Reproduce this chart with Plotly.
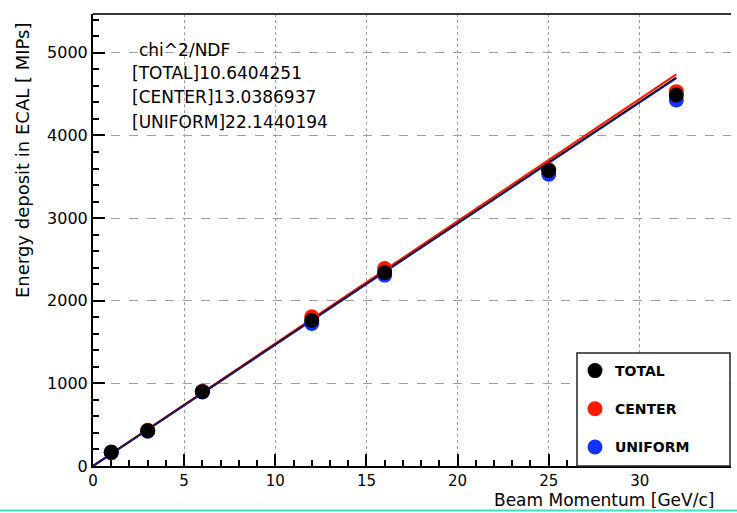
import plotly.graph_objects as go

# Beam momenta (GeV/c) and mean ECAL deposits (MIPs) per selection
momentum = [1, 3, 6, 12, 16, 25, 32]
total = [166, 426, 900, 1760, 2340, 3575, 4490]
center = [170, 432, 905, 1805, 2390, 3585, 4530]
uniform = [162, 420, 895, 1725, 2310, 3530, 4430]

# Straight-line fit results, evaluated at the ends of the fit range
fit_x = [0, 32]
fit_total = [0, 4700]
fit_center = [0, 4740]
fit_uniform = [0, 4690]

chi2_lines = ["chi^2/NDF", "[TOTAL]10.6404251", "[CENTER]13.0386937", "[UNIFORM]22.1440194"]

FONT = "DejaVu Sans"
RED = "#ff1a00"
BLUE = "#1432ff"

fig = go.Figure()

# fit lines (red first, the black/blue pair over it)
fig.add_trace(go.Scatter(x=fit_x, y=fit_center, mode="lines", line=dict(color=RED, width=2.2),
                         showlegend=False, hoverinfo="skip"))
fig.add_trace(go.Scatter(x=fit_x, y=fit_total, mode="lines", line=dict(color="black", width=2),
                         showlegend=False, hoverinfo="skip"))
fig.add_trace(go.Scatter(x=fit_x, y=fit_uniform, mode="lines", line=dict(color="#1a1aa0", width=1.3),
                         showlegend=False, hoverinfo="skip"))

# measured points (TOTAL drawn last, on top)
fig.add_trace(go.Scatter(x=momentum, y=center, mode="markers", name="CENTER", legendrank=2,
                         legendgroup="c", marker=dict(color=RED, size=15)))
fig.add_trace(go.Scatter(x=momentum, y=uniform, mode="markers", name="UNIFORM", legendrank=3,
                         legendgroup="u", marker=dict(color=BLUE, size=15)))
fig.add_trace(go.Scatter(x=momentum, y=total, mode="markers", name="TOTAL", legendrank=1,
                         legendgroup="t", marker=dict(color="black", size=15)))

ann = []
ys = [50, 73, 97, 122]
xs = [137, 130, 130, 130]
for t, yp, xp in zip(chi2_lines, ys, xs):
    ann.append(dict(text=t, xref="paper", yref="paper", x=(xp - 93) / 638, y=(466 - yp) / 452,
                    xanchor="left", yanchor="middle", showarrow=False,
                    font=dict(family=FONT, size=17, color="black")))
ann.append(dict(text="Energy deposit in ECAL [ MIPs]", xref="paper", yref="paper",
                x=(23 - 93) / 638, y=(466 - 160) / 452, textangle=-90, showarrow=False,
                xanchor="center", yanchor="middle", font=dict(family=FONT, size=18, color="black")))
ann.append(dict(text="Beam Momentum [GeV/c]", xref="paper", yref="paper",
                x=(492 - 93) / 638, y=(466 - 500) / 452, showarrow=False, height=16,
                xanchor="left", yanchor="middle", font=dict(family=FONT, size=17, color="black")))

shapes = [
    # legend frame
    dict(type="rect", xref="paper", yref="paper", x0=(577 - 93) / 638, x1=(730 - 93) / 638,
         y0=0.0, y1=(466 - 353) / 452, line=dict(color="#222222", width=1.5), fillcolor="white",
         layer="above"),
    # top frame line
    dict(type="line", xref="paper", yref="paper", x0=0, x1=1, y0=1, y1=1,
         line=dict(color="#333333", width=2)),
    # teal rule at the page bottom
    dict(type="line", xref="paper", yref="paper", x0=-0.2, x1=1.1,
         y0=(466 - 510.5) / 452, y1=(466 - 510.5) / 452, line=dict(color="#40e0c4", width=2)),
]

fig.update_layout(
    width=737, height=513,
    margin=dict(l=93, r=6, t=14, b=47),
    paper_bgcolor="white", plot_bgcolor="white",
    annotations=ann, shapes=shapes,
    showlegend=True,
    legend=dict(x=(575 - 93) / 638, y=(466 - 355) / 452, xanchor="left", yanchor="top",
                bgcolor="rgba(0,0,0,0)", borderwidth=0, tracegroupgap=17,
                font=dict(family=FONT, size=14, color="black", weight="bold")),
)

fig.update_xaxes(range=[0, 35], tick0=0, dtick=5,
                 ticks="inside", ticklen=12, tickwidth=1.5, tickcolor="black",
                 showline=True, linecolor="black", linewidth=2,
                 showgrid=True, gridcolor="#a0a0a0", griddash="dot", gridwidth=1.2,
                 zeroline=False, tickfont=dict(family=FONT, size=15, color="black"),
                 minor=dict(tick0=0, dtick=1, ticks="inside", ticklen=6, tickwidth=1.5,
                            tickcolor="black", showgrid=False))
fig.update_yaxes(range=[0, 5470], tick0=0, dtick=1000,
                 ticks="inside", ticklen=12, tickwidth=1.5, tickcolor="black",
                 showline=True, linecolor="black", linewidth=2,
                 showgrid=True, gridcolor="#a0a0a0", griddash="dash", gridwidth=1.2,
                 zeroline=False, tickfont=dict(family=FONT, size=16, color="black"),
                 minor=dict(tick0=0, dtick=200, ticks="inside", ticklen=6, tickwidth=1.5,
                            tickcolor="black", showgrid=False))

fig.write_html("out.html")
